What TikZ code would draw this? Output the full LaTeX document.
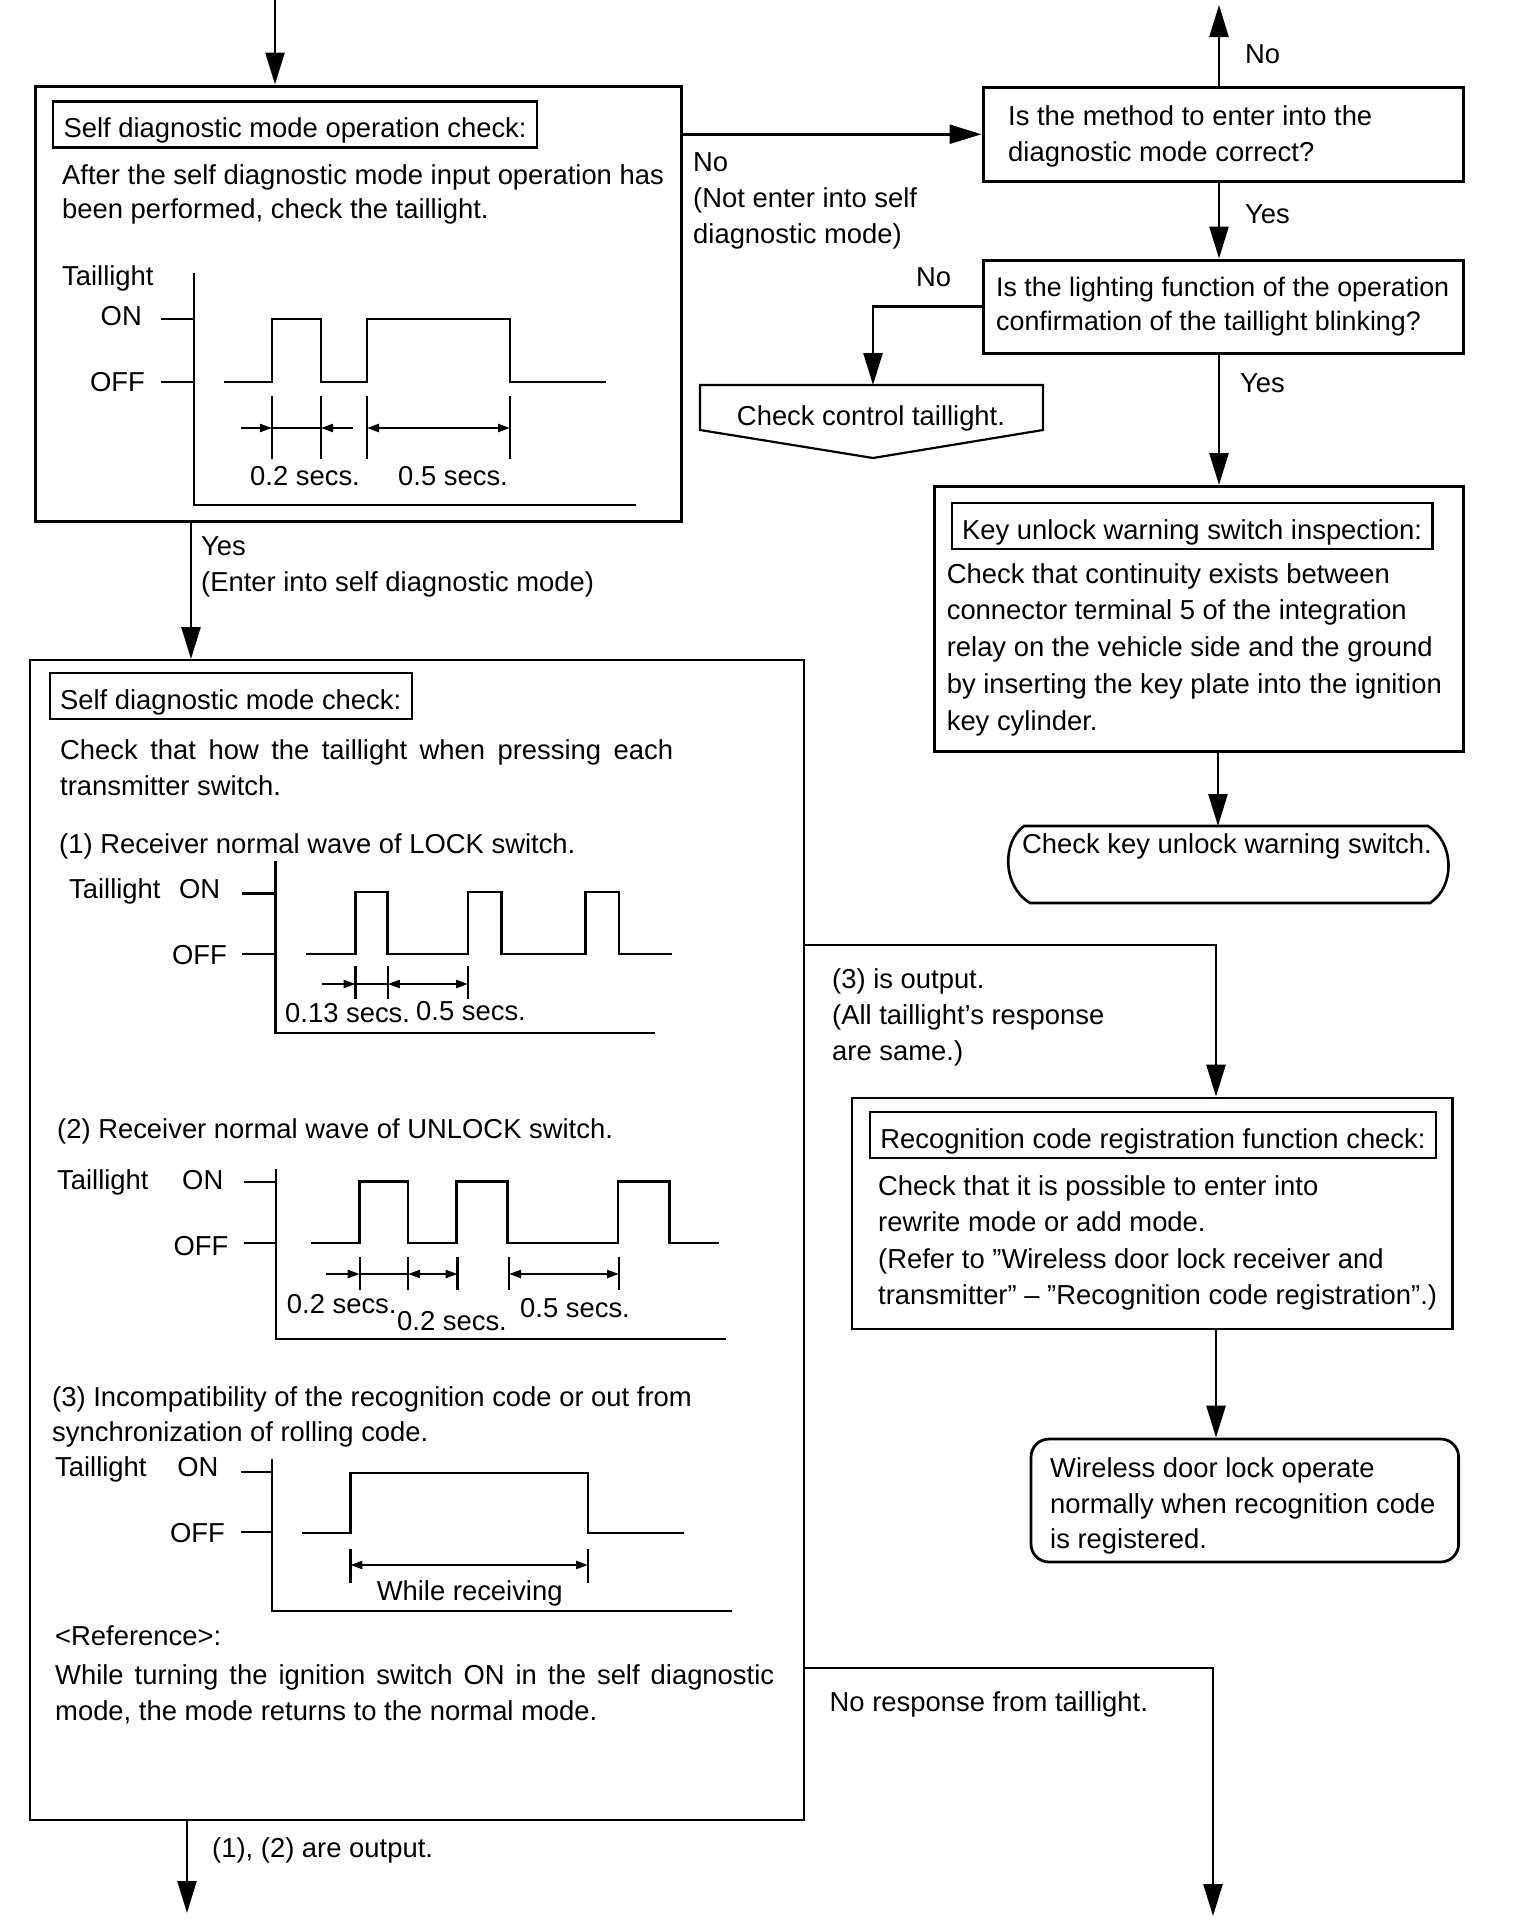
\documentclass[tikz,border=0pt]{standalone}
\usepackage{fontspec}
\setmainfont{Liberation Sans}
\usetikzlibrary{arrows.meta}
\begin{document}
\begin{tikzpicture}[x=1pt,y=-1pt,
  every node/.style={inner sep=0pt, font=\fontsize{27.4}{36}\selectfont},
  txt/.style={anchor=base west, align=left},
  ls/.style={font=\fontsize{27.4}{#1}\selectfont},
  frame/.style={draw, line width=3pt},
  bigframe/.style={draw, line width=2pt},
  hdr/.style={draw, line width=2.2pt, anchor=base west, inner xsep=10.5pt, inner ysep=8pt, text height=28pt, text depth=2pt},
  conn/.style={line width=2.6pt},
  arr/.style={line width=2.6pt, -{Triangle[length=32pt,width=19pt]}},
  wave/.style={line width=2.8pt, line join=miter},
  tick/.style={line width=2.4pt},
  da/.style={line width=2.4pt, -{Triangle[length=12pt,width=8pt]}},
  dd/.style={line width=2.4pt, {Triangle[length=12pt,width=8pt]}-{Triangle[length=12pt,width=8pt]}},
]
\fill[white] (0,0) rectangle (1520,1930);
\useasboundingbox (0,0) rectangle (1520,1930);

% ---------------- boxes ----------------
\node[frame, minimum width=646pt, minimum height=435pt] (b1) at (358,303.5) {};
\node[frame, minimum width=480pt, minimum height=93.5pt] (b2) at (1223,134.25) {};
\node[frame, minimum width=480pt, minimum height=93.5pt] (b3) at (1223,306.75) {};
\node[frame, minimum width=528.5pt, minimum height=264.5pt] (b4) at (1198.75,618.75) {};
\node[bigframe, minimum width=773.5pt, minimum height=1160pt] (bbig) at (416.75,1240) {};
\node[frame, line width=2.8pt, minimum width=600.5pt, minimum height=231pt] (b5) at (1152.25,1213.5) {};
\node[draw, line width=2.8pt, rounded corners=18pt, minimum width=427.6pt, minimum height=123pt] (b6) at (1244.8,1500.5) {};

% terminal and off-page shapes
\draw[line width=2.6pt] (1024,826) -- (1428,826) .. controls (1454,842) and (1456,886) .. (1430,903) -- (1030,903) .. controls (1002,886) and (1002,842) .. (1024,826) -- cycle;
\coordinate (termtop) at (1218,826);
\draw[line width=2.2pt] (700,385) -- (1043,385) -- (1043,430) -- (873,458) -- (700,430) -- cycle;
\coordinate (ctltop) at (873,385);

% ---------------- connectors ----------------
\coordinate (in1) at (275,0);
\draw[arr] (in1) -- (in1 |- b1.north);
\draw[arr] (b1.east |- b2.west) -- (b2.west);
\coordinate (out1) at (1219,5);
\draw[arr] (out1 |- b2.north) -- (out1);
\draw[arr] (out1 |- b2.south) -- (out1 |- b3.north);
\draw[arr] (b3.west) -| (ctltop);
\draw[arr] (out1 |- b3.south) -- (out1 |- b4.north);
\draw[arr] (termtop |- b4.south) -- (termtop);
\coordinate (yes1) at (191,521);
\draw[arr] (yes1) -- (yes1 |- bbig.north);
\coordinate (c3) at (1216,945);
\draw[arr] (bbig.east |- c3) -- (c3) -- (c3 |- b5.north);
\draw[arr] (c3 |- b5.south) -- (c3 |- b6.north);
\coordinate (c4) at (1213,1668);
\coordinate (out3) at (1213,1916);
\draw[arr] (bbig.east |- c4) -- (c4) -- (out3);
\coordinate (out2) at (187,1913);
\draw[arr] (out2 |- bbig.south) -- (out2);

% ---------------- texts: top-left box ----------------
% (multi-line nodes: anchor point is the baseline of the LAST line)
\node[hdr] (h1) at (52,137.5) {Self diagnostic mode operation check:};
\node[txt, ls=34.5] (t1) at (62,218.5) {After the self diagnostic mode input operation has\\been performed, check the taillight.};
\node[txt] (w1tl) at (62,285) {Taillight};
\node[anchor=base east] (w1on) at (142,325) {ON};
\node[anchor=base east] (w1off) at (145,391) {OFF};
\draw[wave] (194,273) -- (194,505) -- (636,505);
\draw[wave] (161,319) -- (194,319);
\draw[wave] (161,382) -- (194,382);
\draw[wave] (224,382) -- (272,382) -- (272,319) -- (321,319) -- (321,382) -- (367,382) -- (367,319) -- (510,319) -- (510,382) -- (606,382);
\foreach \x in {272,321,367,510} \draw[tick] (\x,396) -- (\x,459);
\draw[da] (241,428) -- (272,428);
\draw[tick] (272,428) -- (321,428);
\draw[da] (353,428) -- (321,428);
\draw[dd] (367,428) -- (510,428);
\node[txt] (w1a) at (250,485) {0.2 secs.};
\node[txt] (w1b) at (398,485) {0.5 secs.};

% ---------------- right column texts ----------------
\node[txt] (no1) at (693,243) {No\\(Not enter into self\\diagnostic mode)};
\node[txt] (t2) at (1008,161) {Is the method to enter into the\\diagnostic mode correct?};
\node[txt] (no0) at (1245,63) {No};
\node[txt] (yes2) at (1245,223) {Yes};
\node[txt, font=\fontsize{26.8}{34.5}\selectfont] (t3) at (996,330.5) {Is the lighting function of the operation\\confirmation of the taillight blinking?};
\node[txt] (no2) at (916,286) {No};
\node[anchor=base] (ctl) at (871,425) {Check control taillight.};
\node[txt] (yes3) at (1240,392) {Yes};
\node[hdr] (h4) at (950.5,539) {Key unlock warning switch inspection:};
\node[txt, ls=36.8] (t4) at (946.6,730.2) {Check that continuity exists between\\connector terminal 5 of the integration\\relay on the vehicle side and the ground\\by inserting the key plate into the ignition\\key cylinder.};
\node[txt] (term) at (1022,853) {Check key unlock warning switch.};

% ---------------- big box texts ----------------
\node[txt] (yes1t) at (201,591) {Yes\\(Enter into self diagnostic mode)};
\node[hdr] (h2) at (48.5,709) {Self diagnostic mode check:};
\node[txt] (t5a) at (60,759) {\makebox[613pt][s]{Check that how the taillight when pressing each}};
\node[txt] (t5b) at (60,795) {transmitter switch.};
\node[txt] (t6) at (59,853) {(1) Receiver normal wave of LOCK switch.};

% wave 2
\node[txt] (w2tl) at (69,898) {Taillight};
\node[anchor=base east] (w2on) at (220.4,898) {ON};
\node[anchor=base east] (w2off) at (227,964.5) {OFF};
\draw[wave] (275.5,861) -- (275.5,1033) -- (655,1033);
\draw[wave] (242,893.6) -- (275.5,893.6);
\draw[wave] (242,954) -- (275.5,954);
\draw[wave] (306,954) -- (355.6,954) -- (355.6,892) -- (387.8,892) -- (387.8,954) -- (468,954) -- (468,892) -- (501.5,892) -- (501.5,954) -- (585.7,954) -- (585.7,892) -- (619,892) -- (619,954) -- (672,954);
\foreach \x in {355.6,387.8,468} \draw[tick] (\x,966) -- (\x,999);
\draw[da] (322,984) -- (355.6,984);
\draw[tick] (355.6,984) -- (387.8,984);
\draw[dd] (387.8,984) -- (468,984);
\node[txt] (w2a) at (285,1022) {0.13 secs.};
\node[txt] (w2b) at (416,1020) {0.5 secs.};

\node[txt] (t7) at (57,1138) {(2) Receiver normal wave of UNLOCK switch.};

% wave 3
\node[txt] (w3tl) at (57,1189) {Taillight};
\node[anchor=base east] (w3on) at (223.5,1189) {ON};
\node[anchor=base east] (w3off) at (228.6,1255) {OFF};
\draw[wave] (276,1169) -- (276,1339) -- (726,1339);
\draw[wave] (244,1182) -- (276,1182);
\draw[wave] (244,1243) -- (276,1243);
\draw[wave] (311,1243) -- (359.7,1243) -- (359.7,1181.5) -- (408,1181.5) -- (408,1243) -- (456.6,1243) -- (456.6,1181.5) -- (507.7,1181.5) -- (507.7,1243) -- (618,1243) -- (618,1181.5) -- (669.4,1181.5) -- (669.4,1243) -- (719.4,1243);
\foreach \x in {359.7,408,457.6,509,619} \draw[tick] (\x,1257) -- (\x,1290);
\draw[da] (325.5,1274) -- (359.7,1274);
\draw[tick] (359.7,1274) -- (408,1274);
\draw[dd] (408,1274) -- (457.6,1274);
\draw[dd] (509,1274) -- (619,1274);
\node[txt] (w3a) at (286.7,1313) {0.2 secs.};
\node[txt] (w3b) at (397,1330) {0.2 secs.};
\node[txt] (w3c) at (520,1317) {0.5 secs.};

\node[txt, ls=35] (t8) at (52,1441) {(3) Incompatibility of the recognition code or out from\\synchronization of rolling code.};

% wave 4
\node[txt] (w4tl) at (55,1476) {Taillight};
\node[anchor=base east] (w4on) at (218.6,1476) {ON};
\node[anchor=base east] (w4off) at (225,1542) {OFF};
\draw[wave] (272,1459) -- (272,1611) -- (732,1611);
\draw[wave] (240.6,1472) -- (272,1472);
\draw[wave] (240.6,1532) -- (272,1532);
\draw[wave] (302,1533) -- (350.4,1533) -- (350.4,1473) -- (588,1473) -- (588,1533) -- (684,1533);
\foreach \x in {350.4,588} \draw[tick] (\x,1549) -- (\x,1583);
\draw[dd] (350.4,1565) -- (588,1565);
\node[txt] (w4a) at (376.6,1600) {While receiving};

\node[txt] (ref) at (55,1645) {<Reference>:};
\node[txt] (t9a) at (55,1684) {\makebox[719pt][s]{While turning the ignition switch ON in the self diagnostic}};
\node[txt] (t9b) at (55,1720) {mode, the mode returns to the normal mode.};
\node[txt] (out12) at (212,1857) {(1), (2) are output.};

% ---------------- lower right ----------------
\node[txt] (o3) at (832,1060) {(3) is output.\\(All taillight’s response\\are same.)};
\node[hdr] (h5) at (868.7,1148) {Recognition code registration function check:};
\node[txt, ls=36.3] (t10) at (878,1304.4) {Check that it is possible to enter into\\rewrite mode or add mode.\\(Refer to ”Wireless door lock receiver and\\transmitter” – ”Recognition code registration”.)};
\node[txt, ls=35.5] (t11) at (1050,1548.5) {Wireless door lock operate\\normally when recognition code\\is registered.};
\node[txt] (nr) at (829.5,1711) {No response from taillight.};
\end{tikzpicture}
\end{document}
